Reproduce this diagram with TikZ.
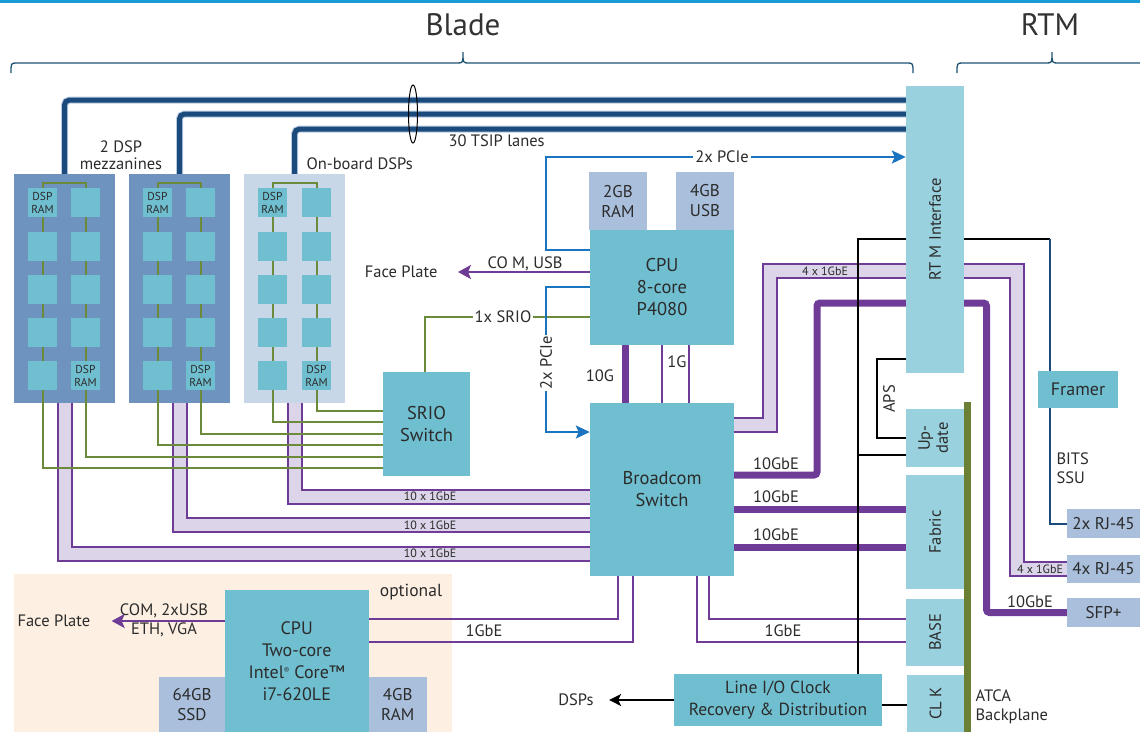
\documentclass[tikz,border=0pt]{standalone}
\usepackage{fontspec}
\setmainfont{PT Sans}
\usepackage{xcolor}
\usepackage{tikz}
\usetikzlibrary{arrows.meta,calc}

\definecolor{boxc}{HTML}{70BFD0}
\definecolor{rtmc}{HTML}{99D1DE}
\definecolor{memc}{HTML}{A9BFDC}
\definecolor{brdc}{HTML}{6F93BF}
\definecolor{brdl}{HTML}{C8D7E8}
\definecolor{navyc}{HTML}{1B4A7C}
\definecolor{edgec}{HTML}{B9CBE0}
\definecolor{pciec}{HTML}{1B74C0}
\definecolor{srioc}{HTML}{6B8A3A}
\definecolor{atcac}{HTML}{6B7F35}
\definecolor{gbec}{HTML}{6E3B96}
\definecolor{lavc}{HTML}{DCD4E8}
\definecolor{peachc}{HTML}{FDF0E3}
\definecolor{rulec}{HTML}{1A9BD7}
\definecolor{bracec}{HTML}{1F5373}
\definecolor{txtc}{HTML}{2B2B2B}

\pgfdeclarelayer{back}
\pgfdeclarelayer{wires}
\pgfsetlayers{back,wires,main}

\begin{document}
\begin{tikzpicture}[x=1pt, y=-1pt,
  every node/.style={text=txtc, font=\fontsize{16.5}{19}\selectfont},
  box/.style={fill=boxc, inner sep=0pt, align=center, font=\fontsize{18.5}{22}\selectfont},
  rtmbox/.style={fill=rtmc, inner sep=0pt, align=center},
  mem/.style={fill=memc, inner sep=0pt, align=center, font=\fontsize{17}{20}\selectfont},
  chip/.style={fill=boxc, minimum size=29pt, inner sep=0pt},
  small/.style={font=\fontsize{12}{14}\selectfont},
  tsip/.style={draw=navyc, line width=5pt, rounded corners=5pt, preaction={draw=edgec, line width=7pt}},
  sriol/.style={draw=srioc, line width=2pt},
  pciel/.style={draw=pciec, line width=2.5pt},
  gbel/.style={draw=gbec, line width=2.5pt},
  tengbe/.style={draw=gbec, line width=7pt, rounded corners=3pt},
  band/.style={draw=gbec, line width=2pt, double=lavc, double distance=12pt},
  ctl/.style={draw=black, line width=2pt},
  brace/.style={draw=bracec, line width=1.3pt}]

  \useasboundingbox (0,0) rectangle (1140,732);
  \draw[rulec, line width=3pt] (0,1.5) -- (1140,1.5);

  % Headings
  \node[font=\fontsize{31}{36}\selectfont, text=black!80] (blade) at (463,25) {Blade};
  \node[font=\fontsize{31}{36}\selectfont, text=black!80] (rtmt) at (1050,25) {RTM};
  \draw[brace] (11,73) .. controls (11,63) .. (17,63) -- (457,63) .. controls (463,63) .. (463,52)
    .. controls (463,63) .. (469,63) -- (907,63) .. controls (913,63) .. (913,73);
  \draw[brace] (957,73) .. controls (957,63) .. (963,63) -- (1046,63) .. controls (1052,63) .. (1052,52)
    .. controls (1052,63) .. (1058,63) -- (1140,63);

  % Backgrounds and DSP boards
  \begin{pgfonlayer}{back}
    \fill[peachc] (14,574) rectangle (452,732);
    \node[fill=brdc, minimum width=101pt, minimum height=229pt, inner sep=0pt] (b1) at (64.5,288.5) {};
    \node[fill=brdc, minimum width=101pt, minimum height=229pt, inner sep=0pt] (b2) at (179.5,288.5) {};
    \node[fill=brdl, minimum width=101pt, minimum height=229pt, inner sep=0pt] (b3) at (294.5,288.5) {};
  \end{pgfonlayer}

  % DSP chips
  \foreach \b/\xa/\xb in {1/42.5/85.5, 2/157.5/200.5, 3/272.5/316.5}
    \foreach \r/\y in {1/202.5, 2/246.5, 3/289.5, 4/332.5, 5/375.5} {
      \node[chip] (d\b1\r) at (\xa,\y) {};
      \node[chip] (d\b2\r) at (\xb,\y) {};
    }
  \foreach \b in {1,2,3} {
    \node[font=\fontsize{11.5}{13}\selectfont, align=center] at (d\b11) {DSP\\RAM};
    \node[font=\fontsize{11.5}{13}\selectfont, align=center] at (d\b25) {DSP\\RAM};
  }
  \node[align=center, font=\fontsize{16.5}{17}\selectfont] (mezz) at (121,155.5) {2 DSP\\mezzanines};
  \node[anchor=west] (onb) at (303,164) {On-board DSPs};
  \node[anchor=west] (lanes) at (445,141) {30 TSIP lanes};

  % Blade boxes
  \node[box, minimum width=87pt, minimum height=104pt] (srio) at (426.5,424) {SRIO\\Switch};
  \node[box, minimum width=144pt, minimum height=115pt] (cpu) at (662,287.5) {CPU\\8-core\\P4080};
  \node[mem, minimum width=58pt, minimum height=58pt] (ram2) at (618,201) {2GB\\RAM};
  \node[mem, minimum width=58pt, minimum height=58pt] (usb4) at (705,201) {4GB\\USB};
  \node[box, minimum width=144pt, minimum height=173pt] (bcm) at (662,489.5) {Broadcom\\Switch};
  \node[box, minimum width=208pt, minimum height=52pt, font=\fontsize{17.5}{22}\selectfont] (lineio) at (778,700) {Line I/O Clock\\Recovery \& Distribution};

  % Optional CPU
  \node[box, minimum width=143.5pt, minimum height=142pt, font=\fontsize{18}{22}\selectfont] (intel) at (296.75,661)
    {CPU\\Two-core\\Intel\raisebox{5pt}{\fontsize{8}{8}\selectfont ®} Core™\\i7-620LE};
  \node[mem, minimum width=66pt, minimum height=55pt] (ssd) at (192,704.5) {64GB\\SSD};
  \node[mem, minimum width=58.5pt, minimum height=55pt] (ram4) at (397.75,704.5) {4GB\\RAM};
  \node[font=\fontsize{17.5}{20}\selectfont] (opt) at (411,592) {optional};

  % RTM side
  \node[rtmbox, minimum width=58pt, minimum height=287pt] (rtm) at (935,229.5) {\rotatebox{90}{RT M Interface}};
  \node[rtmbox, minimum width=58pt, minimum height=58pt] (update) at (935,438)
    {\rotatebox{90}{\begin{tabular}{@{}c@{}}Up-\\[-1pt]date\end{tabular}}};
  \node[rtmbox, minimum width=58pt, minimum height=114pt] (fabric) at (935,532) {\rotatebox{90}{Fabric}};
  \node[rtmbox, minimum width=58pt, minimum height=67pt] (base) at (935,632.5) {\rotatebox{90}{BASE}};
  \node[rtmbox, minimum width=57pt, minimum height=57pt] (clk) at (935.5,703.5) {\rotatebox{90}{CL K}};
  \fill[atcac] (964,402) rectangle (971,732);
  \node[box, minimum width=80pt, minimum height=37pt, font=\fontsize{18}{22}\selectfont] (framer) at (1078,389.5) {Framer};
  \node[mem, minimum width=73pt, minimum height=29pt] (rj2) at (1103.5,523.5) {2x RJ-45};
  \node[mem, minimum width=73pt, minimum height=28pt] (rj4) at (1103.5,569) {4x RJ-45};
  \node[mem, minimum width=73pt, minimum height=29pt] (sfp) at (1103.5,612.5) {SFP+};
  \node[anchor=west, align=left] (bits) at (1053,468) {BITS\\SSU};
  \node[anchor=west, align=left] (atca) at (972,707) {ATCA\\Backplane};

  % Outside targets
  \node[anchor=east] (fp1) at (441,272) {Face Plate};
  \node[anchor=west] (fp2) at (14,621) {Face Plate};
  \node (dspl) at (576,700) {DSPs};

  \begin{pgfonlayer}{wires}
    % TSIP lanes
    \draw[tsip] (b1.north) |- (rtm.west |- 0,100);
    \draw[tsip] (b2.north) |- (rtm.west |- 0,114);
    \draw[tsip] (b3.north) |- (rtm.west |- 0,129);

    % 10 x 1GbE bands
    \foreach \b/\y in {1/553.5, 2/525, 3/496.5}
      \draw[band] (b\b.south) |- (bcm.west |- 0,\y);

    % SRIO
    \foreach \b/\ya/\yb in {1/468/457, 2/445/434, 3/422/411}
      \draw[sriol] (srio.west |- 0,\ya) -| ([yshift=5pt]d\b11.north) -- ([yshift=5pt]d\b21.north) |- (srio.west |- 0,\yb);
    \draw[sriol] (srio.north -| 425,0) |- (cpu.west |- 0,317);

    % PCIe
    \draw[pciel, -{Stealth[length=14pt,width=13pt,inset=3pt]}] (cpu.west |- 0,250) -| (546,157) -- (rtm.west |- 0,157);
    \draw[pciel, -{Stealth[length=14pt,width=13pt,inset=3pt]}] (cpu.west |- 0,287) -| (546,432) -- (bcm.west |- 0,432);

    % Ethernet
    \draw[band] (bcm.east |- 0,424.5) -| (769.5,271) -- (1017,271) |- (rj4.west);
    \draw[tengbe] (bcm.east |- 0,475) -| (817,303) -- (986.5,303) |- (sfp.west);
    \draw[tengbe] (bcm.east |- 0,509) -- (fabric.west |- 0,509);
    \draw[tengbe] (bcm.east |- 0,547) -- (fabric.west |- 0,547);
    \draw[tengbe, rounded corners=0pt] (cpu.south -| 625,0) -- (bcm.north -| 625,0);
    \draw[gbel] (cpu.south -| 662,0) -- (bcm.north -| 662,0);
    \draw[gbel] (cpu.south -| 689,0) -- (bcm.north -| 689,0);
    \draw[gbel] (bcm.south -| 618,0) |- (intel.east |- 0,619);
    \draw[gbel] (bcm.south -| 633,0) |- (intel.east |- 0,642);
    \draw[gbel] (bcm.south -| 709,0) |- (base.west |- 0,619);
    \draw[gbel] (bcm.south -| 697,0) |- (base.west |- 0,642);
    \draw[gbel, -{Stealth[length=13pt,width=14pt,inset=3pt]}] (cpu.west |- fp1.east) -- ([xshift=17pt]fp1.east);
    \draw[gbel, -{Stealth[length=13pt,width=14pt,inset=3pt]}] (intel.west |- fp2.east) -- ([xshift=18pt]fp2.east);

    % Control and clock
    \coordinate (junc) at (858,455);
    \draw[ctl] (lineio.north -| 858,0) |- (1050,239);
    \draw[draw=navyc, line width=2pt] (1050,239) -- (framer.north -| 1050,0);
    \draw[draw=navyc, line width=2pt] (framer.south -| 1050,0) |- (rj2.west);
    \draw[ctl] (rtm.west |- 0,359) -| (877,400) |- (update.west);
    \draw[ctl] (junc) -- (update.west |- junc);
    \draw[ctl] (lineio.east |- 0,705) -- (clk.west |- 0,705);
    \draw[ctl, -{Stealth[length=12pt,width=12pt,inset=3pt]}] (lineio.west) -- ([xshift=12pt]dspl.east);
  \end{pgfonlayer}

  % Link labels
  \draw[black, line width=1pt] (413,114) ellipse [x radius=4.5pt, y radius=29pt];
  \node[fill=white, inner sep=2pt] at (722,157) {2x PCIe};
  \node[fill=white, inner sep=1pt] at (546,363) {\rotatebox{90}{2x PCIe}};
  \node[fill=white, inner sep=2pt] at (503,317) {1x SRIO};
  \node at (525,264) {CO M, USB};
  \node at (600,376) {10G};
  \node at (677,362) {1G};
  \node[small] at (430,496.5) {10 x 1GbE};
  \node[small] at (430,525) {10 x 1GbE};
  \node[small] at (430,553.5) {10 x 1GbE};
  \node[small] at (825,271) {4 x 1GbE};
  \node[small] at (1040,569) {4 x 1GbE};
  \node at (776,464) {10GbE};
  \node at (776,497) {10GbE};
  \node at (776,535) {10GbE};
  \node at (1030,602) {10GbE};
  \node[anchor=west] at (462,631) {1GbE};
  \node at (783,631) {1GbE};
  \node[align=center] at (164,620.5) {COM, 2xUSB\\ETH, VGA};
  \node at (889,399) {\rotatebox{90}{APS}};
\end{tikzpicture}
\end{document}
